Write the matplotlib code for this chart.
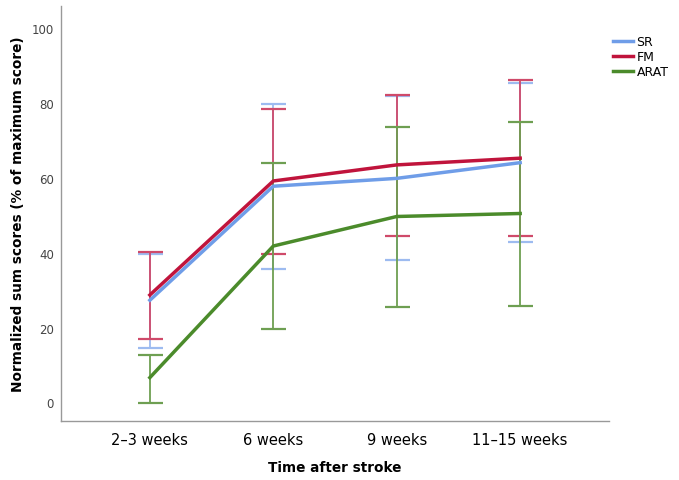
import numpy as np
import matplotlib.pyplot as plt

# data (means with lower / upper whisker ends)
TIMES = ['2–3 weeks', '6 weeks', '9 weeks', '11–15 weeks']

SR_MEAN  = [27.3, 57.8, 59.9, 64.1]
SR_LOW   = [14.4, 35.6, 38.1, 43.0]
SR_HIGH  = [39.8, 79.7, 81.9, 85.3]

FM_MEAN  = [28.7, 59.2, 63.5, 65.3]
FM_LOW   = [16.8, 39.7, 44.6, 44.5]
FM_HIGH  = [40.2, 78.5, 82.3, 86.2]

ARAT_MEAN = [6.6, 41.8, 49.7, 50.5]
ARAT_LOW  = [-0.3, 19.7, 25.6, 25.7]
ARAT_HIGH = [12.7, 63.9, 73.7, 75.1]

SERIES = [
    ('SR',   SR_MEAN,   SR_LOW,   SR_HIGH,   '#6f9de8', '#9dbbf0'),
    ('FM',   FM_MEAN,   FM_LOW,   FM_HIGH,   '#c0143c', '#cf4a6a'),
    ('ARAT', ARAT_MEAN, ARAT_LOW, ARAT_HIGH, '#4b8b2b', '#6e9f52'),
]

fig = plt.figure(figsize=(6.79, 4.81), dpi=100)
ax = fig.add_axes([0.0898, 0.1227, 0.8072, 0.8627])

x = np.arange(len(TIMES))
handles = []
for name, mean, low, high, col, ecol in SERIES:
    mean = np.array(mean)
    yerr = [mean - np.array(low), np.array(high) - mean]
    ax.errorbar(x, mean, yerr=yerr, fmt='none', ecolor=ecol,
                elinewidth=1.3, capsize=9, capthick=1.6, zorder=2)
    h, = ax.plot(x, mean, color=col, linewidth=2.5, zorder=3,
                 solid_joinstyle='round')
    handles.append(h)

ax.set_xlim(-0.72, 3.72)
ax.set_ylim(-5, 106)
ax.set_xticks(x)
ax.set_xticklabels(TIMES, fontsize=10.5)
ax.set_yticks([0, 20, 40, 60, 80, 100])
ax.tick_params(axis='y', length=0, pad=5, labelsize=8.5, labelcolor='#444444')
ax.tick_params(axis='x', length=0, pad=8)

for s in ['top', 'right']:
    ax.spines[s].set_visible(False)
for s in ['left', 'bottom']:
    ax.spines[s].set_color('#999999')
    ax.spines[s].set_linewidth(1.0)

ax.set_xlabel('Time after stroke', fontsize=9.8, fontweight='bold', labelpad=9)
ax.set_ylabel('Normalized sum scores (% of maximum score)', fontsize=9.8,
              fontweight='bold', labelpad=5)

fig.legend(handles, [s[0] for s in SERIES], loc='upper left',
           bbox_to_anchor=(0.895, 0.935), frameon=False, fontsize=9,
           handlelength=1.6, handletextpad=0.3, labelspacing=0.15,
           borderaxespad=0)

fig.savefig('out.png', dpi=100)
